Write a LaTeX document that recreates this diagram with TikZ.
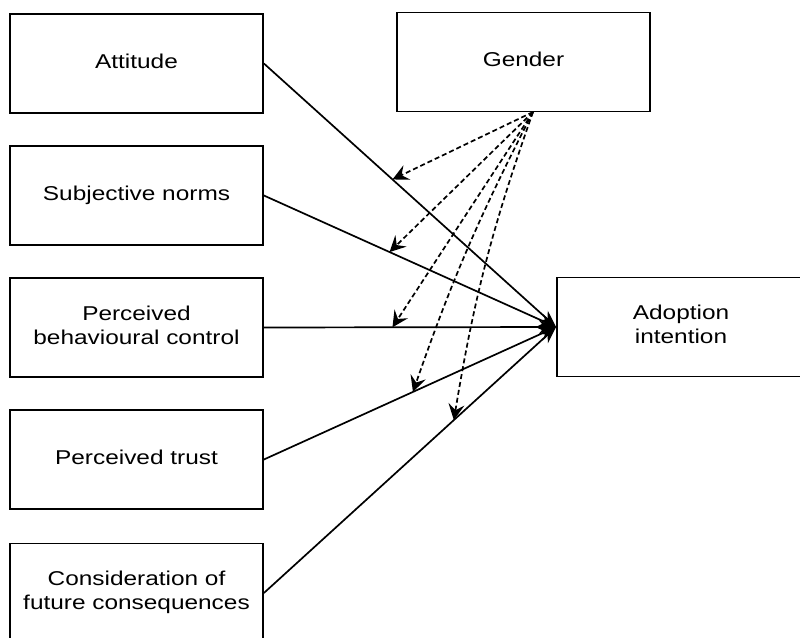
\documentclass[tikz,border=0pt]{standalone}
\usepackage{fontspec}
\setmainfont{Liberation Sans}
\usetikzlibrary{arrows.meta,calc}
\newcommand{\lbl}[1]{\scalebox{1.22}[1]{\begin{tabular}{@{}c@{}}#1\end{tabular}}}
\tikzset{
  box/.style={draw, line width=1.8pt, rectangle, minimum width=253pt, minimum height=99pt,
    inner sep=0pt, font=\fontsize{20}{24}\selectfont},
  solidarr/.style={line width=1.7pt, -{Stealth[length=17pt,width=13pt]}},
  dasharr/.style={line width=1.7pt, dash pattern=on 5pt off 3pt, -{Stealth[length=16pt,width=16pt,inset=6pt]}}
}
\begin{document}
\begin{tikzpicture}[x=1pt,y=-1pt]
\useasboundingbox (0,0) rectangle (800,637);
\fill[white] (0,0) rectangle (800,637);
\node[box] (att) at (136.5,63.5) {\lbl{Attitude}};
\node[box] (gen) at (523.5,62) {\lbl{Gender}};
\node[box] (sn)  at (136.5,195.5) {\lbl{Subjective norms}};
\node[box] (pbc) at (136.5,327.5) {\lbl{Perceived\\behavioural control}};
\node[box] (pt)  at (136.5,459.5) {\lbl{Perceived trust}};
\node[box] (cfc) at (136.5,593) {\lbl{Consideration of\\future consequences}};
\node[box, minimum width=248pt] (ai) at (681,327) {\lbl{Adoption\\intention}};
\coordinate (tip) at (ai.west);
\coordinate (g) at (533,112);
\foreach \n in {att,sn,pbc,pt,cfc} { \draw[solidarr] (\n.east) -- (tip); }
\coordinate (m1) at ($(att.east)!0.44!(tip)$);
\coordinate (m2) at ($(sn.east)!0.43!(tip)$);
\coordinate (m3) at ($(pbc.east)!0.44!(tip)$);
\coordinate (m4) at ($(pt.east)!0.51!(tip)$);
\coordinate (m5) at ($(cfc.east)!0.65!(tip)$);
\draw[dasharr] (g) -- (m1);
\draw[dasharr] (g) -- (m2);
\draw[dasharr] (g) -- (m3);
\draw[dasharr] (g) to[bend right=4] (m4);
\draw[dasharr] (g) to[bend right=5] (m5);
\end{tikzpicture}
\end{document}
